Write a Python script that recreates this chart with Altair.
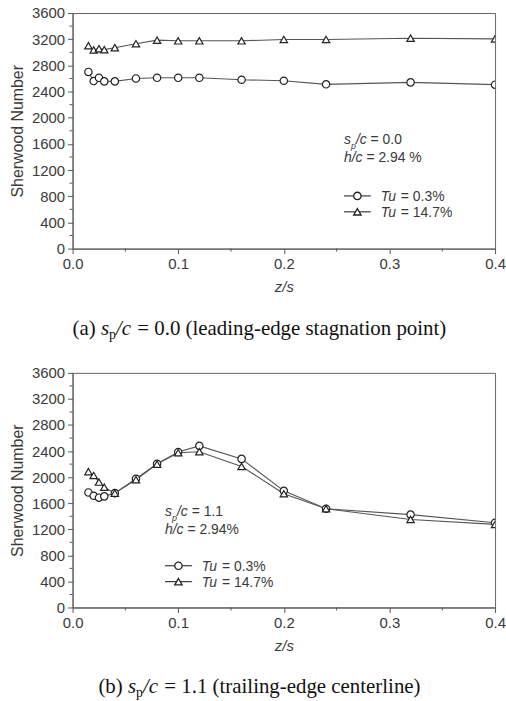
import altair as alt
import pandas as pd

# ---------------- data ----------------
z = [0.015, 0.02, 0.025, 0.03, 0.04, 0.06, 0.08, 0.1, 0.12, 0.16, 0.2, 0.24, 0.32, 0.4]
series = ["Tu = 0.3%", "Tu = 14.7%"]

a_tu03 = [2700, 2560, 2610, 2555, 2555, 2600, 2610, 2610, 2610, 2580, 2565, 2510, 2540, 2505]
a_tu147 = [3100, 3035, 3055, 3040, 3070, 3130, 3185, 3175, 3175, 3175, 3195, 3195, 3215, 3205]

b_tu03 = [1765, 1715, 1685, 1705, 1755, 1975, 2205, 2385, 2480, 2280, 1790, 1515, 1425, 1300]
b_tu147 = [2085, 2025, 1925, 1845, 1755, 1960, 2200, 2375, 2390, 2165, 1745, 1515, 1350, 1275]

y_major = [0, 400, 800, 1200, 1600, 2000, 2400, 2800, 3200, 3600]
y_minor = [200, 600, 1000, 1400, 1800, 2200, 2600, 3000, 3400]
x_major = [0.0, 0.1, 0.2, 0.3, 0.4]
x_minor = [0.05, 0.15, 0.25, 0.35]

cap_a = ["(a)", "s", "p", "/c", "= 0.0 (leading-edge stagnation point)"]
cap_b = ["(b)", "s", "p", "/c", "= 1.1 (trailing-edge centerline)"]
ann_a = [["s", "p", "/c", "= 0.0"], ["h/c", "= 2.94 %"]]
ann_b = [["s", "p", "/c", "= 1.1"], ["h/c", "= 2.94%"]]

# ---------------- styling ----------------
W = 425
HA = 237
HB = 236
SANS = "Liberation Sans"
SERIF = "Liberation Serif"
INK = "#3a3a3a"
AX = "#555555"

TIMES_W = {" ": 250, "(": 333, ")": 333, "a": 444, "b": 500, "c": 444, "d": 500,
           "e": 444, "g": 500, "i": 278, "l": 278, "n": 500, "o": 500, "p": 500, "r": 333,
           "s": 389, "t": 278, "=": 564, "0": 500, "1": 500, ".": 250, "-": 333, "/": 278,
           "h": 500}
ARIAL_W = {" ": 278, "s": 500, "p": 556, "/": 278, "c": 500, "=": 584, "0": 556,
           ".": 278, "1": 556, "h": 556, "2": 556, "9": 556, "4": 556, "%": 889, "T": 611,
           "u": 556, "3": 556, "7": 556}


def tw(text, size, table):
    return sum(table.get(ch, 500) for ch in text) * size / 1000.0


def one():
    return pd.DataFrame({"k": [0]})


def txt(text, x, y, size, font, italic=False):
    return alt.Chart(one()).mark_text(
        text=text, align="left", baseline="alphabetic", font=font, fontSize=size,
        fontStyle="italic" if italic else "normal", color=INK if font == SANS else "#111111"
    ).encode(x=alt.value(x), y=alt.value(y))


def caption(pieces, x0, y):
    layers = []
    size, sub = 21, 14
    space = tw(" ", size, TIMES_W)
    x = x0
    layers.append(txt(pieces[0], x, y, size, SERIF))
    x += tw(pieces[0], size, TIMES_W) + space
    layers.append(txt(pieces[1], x, y, size, SERIF, True))
    x += tw(pieces[1], size, TIMES_W)
    layers.append(txt(pieces[2], x, y + 4, sub, SERIF))
    x += tw(pieces[2], sub, TIMES_W)
    layers.append(txt(pieces[3], x, y, size, SERIF, True))
    x += tw(pieces[3], size, TIMES_W) + space + 1
    layers.append(txt(pieces[4], x, y, size, SERIF))
    return layers


def annotation(rows, x0, y0, dy):
    layers = []
    size, sub = 14, 9
    space = tw(" ", size, ARIAL_W)
    r1, r2 = rows
    x = x0
    layers.append(txt(r1[0], x, y0, size, SANS, True))
    x += tw(r1[0], size, ARIAL_W)
    layers.append(txt(r1[1], x, y0 + 5, sub, SANS, True))
    x += tw(r1[1], sub, ARIAL_W)
    layers.append(txt(r1[2], x, y0, size, SANS, True))
    x += tw(r1[2], size, ARIAL_W) + space
    layers.append(txt(r1[3], x, y0, size, SANS))
    x = x0
    layers.append(txt(r2[0], x, y0 + dy, size, SANS, True))
    x += tw(r2[0], size, ARIAL_W) + space
    layers.append(txt(r2[1], x, y0 + dy, size, SANS))
    return layers


def legend(x0, y0, dy):
    layers = []
    shapes = ["circle", "triangle-up"]
    size = 14
    space = tw(" ", size, ARIAL_W)
    for i, s in enumerate(series):
        yy = y0 + i * dy
        layers.append(alt.Chart(one()).mark_rule(color=INK, strokeWidth=1.2).encode(
            x=alt.value(x0), x2=alt.value(x0 + 27), y=alt.value(yy)))
        layers.append(alt.Chart(one()).mark_point(
            shape=shapes[i], size=55, fill="white", stroke="#222222", strokeWidth=1.3, opacity=1
        ).encode(x=alt.value(x0 + 13.5), y=alt.value(yy)))
        tu, rest = s.split(" ", 1)
        layers.append(txt(tu, x0 + 37, yy + 5, size, SANS, True))
        layers.append(txt(rest, x0 + 37 + tw(tu, size, ARIAL_W) + space, yy + 5, size, SANS))
    return layers


def panel(v03, v147, H, ann_rows, ann_xy, leg_xy, cap_pieces, cap_x, cap_dy):
    df = pd.DataFrame({
        "z": z + z,
        "sh": v03 + v147,
        "series": [series[0]] * len(z) + [series[1]] * len(z),
    })
    xs = alt.Scale(domain=[0, 0.4], nice=False, zero=False)
    ys = alt.Scale(domain=[0, 3600], nice=False)
    xaxis = alt.Axis(values=x_major, format=".1f", title="z/s", titleFontStyle="italic",
                     titleFontWeight="normal", grid=False, tickSize=5, labelPadding=3,
                     titlePadding=8, labelFlush=False, titleFontSize=15)
    yaxis = alt.Axis(values=y_major, format="d", title="Sherwood Number", titleFontWeight="normal",
                     grid=False, tickSize=5, labelPadding=3, titlePadding=6, titleFontSize=16)
    base = alt.Chart(df)
    line = base.mark_line(color="#555555", strokeWidth=1.1, clip=True).encode(
        x=alt.X("z:Q", scale=xs, axis=xaxis),
        y=alt.Y("sh:Q", scale=ys, axis=yaxis),
        detail="series:N",
    )
    pts = base.mark_point(size=55, fill="white", stroke="#222222", strokeWidth=1.2,
                          opacity=1, clip=True).encode(
        x=alt.X("z:Q", scale=xs, axis=xaxis),
        y=alt.Y("sh:Q", scale=ys, axis=yaxis),
        shape=alt.Shape("series:N", scale=alt.Scale(domain=series, range=["circle", "triangle-up"]),
                        legend=None),
    )
    ymin = alt.Chart(pd.DataFrame({"sh": y_minor})).mark_rule(color=AX, strokeWidth=1).encode(
        y=alt.Y("sh:Q", scale=ys, axis=yaxis), x=alt.value(-3), x2=alt.value(0))
    xmin = alt.Chart(pd.DataFrame({"z": x_minor})).mark_rule(color=AX, strokeWidth=1).encode(
        x=alt.X("z:Q", scale=xs, axis=xaxis), y=alt.value(H), y2=alt.value(H + 3))
    layers = [line, pts, ymin, xmin]
    layers += annotation(ann_rows, ann_xy[0], ann_xy[1], 18)
    layers += legend(leg_xy[0], leg_xy[1], 16)
    layers += caption(cap_pieces, cap_x, H + cap_dy)
    return alt.layer(*layers).properties(width=W, height=H)


pa = panel(a_tu03, a_tu147, HA, ann_a, (273, 132), (273, 184), cap_a, 0, 87)
pb = panel(b_tu03, b_tu147, HB, ann_b, (93, 144), (93, 194), cap_b, 26, 86)

chart = alt.vconcat(pa, pb, spacing=125, bounds="flush").properties(
    padding={"left": 9, "top": 3, "right": 0, "bottom": 0},
    background="white",
).configure_view(
    stroke="#666666", strokeWidth=1
).configure_axis(
    labelFont=SANS, titleFont=SANS, labelFontSize=15, titleFontSize=15,
    labelColor=INK, titleColor=INK, domainColor=AX, tickColor=AX, domainWidth=1, tickWidth=1
)

chart.save("out.html", embed_options={"renderer": "svg", "actions": False})
